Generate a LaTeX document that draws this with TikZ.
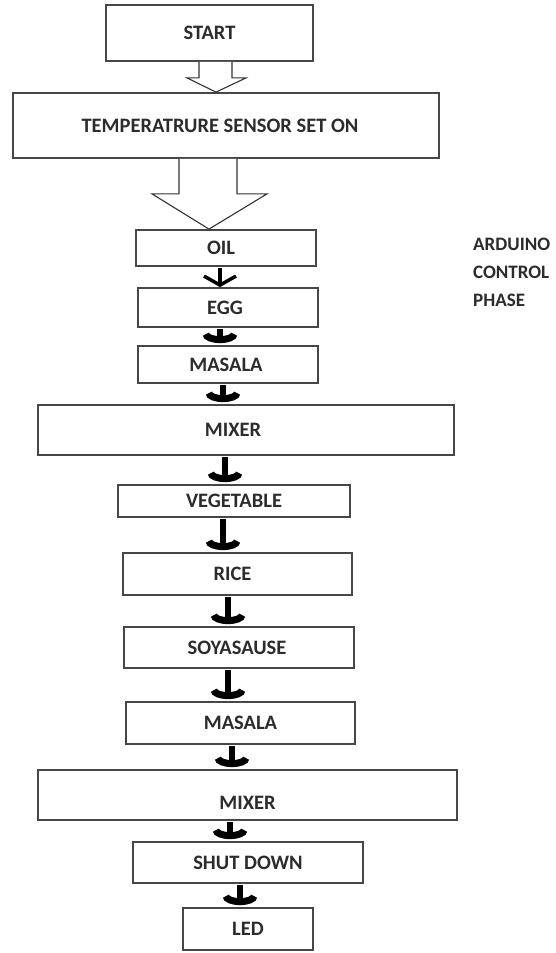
\documentclass[tikz,border=0pt]{standalone}
\usepackage{fontspec}
\setmainfont{Carlito}
\usetikzlibrary{arrows.meta,calc}
\definecolor{boxline}{HTML}{474747}
\definecolor{txt}{HTML}{2c2c2c}
\begin{document}
\begin{tikzpicture}[x=1pt,y=-1pt,
  box/.style={draw=boxline, line width=1.8pt, rectangle, inner sep=0pt, text=txt,
    font=\fontsize{20.5}{24}\selectfont\bfseries},
  blockarrow/.style={draw=black!80, fill=white, line width=1.1pt, line join=miter},
  crown/.style={draw=black, line width=5.5pt, shorten <=1.5pt, shorten >=2pt,
    -{Arc Barb[length=9pt,width=35pt,line width=7pt]}},
  vee/.style={draw=black, line width=3.5pt, shorten <=1pt,
    -{Straight Barb[length=9pt,width=32pt,line width=3.5pt]}}]
\useasboundingbox (0,0) rectangle (556,953);
\fill[white] (0,0) rectangle (556,953);

% boxes
\node[box, minimum width=207pt, minimum height=56pt] (start) at (209.5,33) {START};
\node[box, minimum width=426pt, minimum height=65pt] (temp) at (226,125.5) {TEMPERATRURE SENSOR SET ON\hspace*{12pt}};
\node[box, minimum width=180pt, minimum height=36pt] (oil) at (226,248) {OIL\hspace*{10pt}};
\node[box, minimum width=180pt, minimum height=39pt] (egg) at (228,307.5) {EGG\hspace*{6pt}};
\node[box, minimum width=180pt, minimum height=37pt] (masala) at (228,364.5) {MASALA\hspace*{4pt}};
\node[box, minimum width=416pt, minimum height=50pt] (mixer) at (246,430) {MIXER\hspace*{26pt}};
\node[box, minimum width=232pt, minimum height=32pt] (veg) at (234,501) {VEGETABLE};
\node[box, minimum width=229pt, minimum height=42pt] (rice) at (237.5,574) {RICE\hspace*{10pt}};
\node[box, minimum width=230pt, minimum height=41pt] (soy) at (239,647.5) {SOYASAUSE\hspace*{4pt}};
\node[box, minimum width=229pt, minimum height=42pt] (masalab) at (240.5,723) {MASALA};
\node[box, minimum width=419pt, minimum height=50pt] (mixerb) at (247.5,795) {\raisebox{-14pt}[0pt][0pt]{MIXER}};
\node[box, minimum width=230pt, minimum height=41pt] (shut) at (248,862.5) {SHUT DOWN};
\node[box, minimum width=130pt, minimum height=42pt] (led) at (248,929) {LED};

% side label
\node[anchor=west, inner sep=0pt, text=txt, align=left,
  font=\fontsize{19}{28}\selectfont\bfseries] (ard) at (473,272)
  {ARDUINO\\CONTROL\\PHASE};

% block arrows
\draw[blockarrow] ($(start.south)+(-10.5,0)$) -- ++(0,16) -- ++(-12,0)
  -- ($(temp.north)+(-10,0)$) -- ($(start.south)+(36.5,16)$) -- ++(-14,0) -- ++(0,-16);
\draw[blockarrow] ($(temp.south)+(-47,0)$) -- ++(0,35) -- ++(-27,0)
  -- ($(oil.north)+(-17,0)$) -- ($(temp.south)+(41,35)$) -- ++(-30,0) -- ++(0,-35);

% small black arrows
\draw[vee]   ([xshift=-6pt]oil.south)      -- ([xshift=-8pt]egg.north);
\draw[crown] ([xshift=-8pt]egg.south)      -- ([xshift=-8pt]masala.north);
\draw[crown] ([xshift=-5pt]masala.south)   -- ([xshift=-23pt]mixer.north);
\draw[crown] ([xshift=-21pt]mixer.south)   -- ([xshift=-9pt]veg.north);
\draw[crown] ([xshift=-11pt]veg.south)     -- ([xshift=-14.5pt]rice.north);
\draw[crown] ([xshift=-9.5pt]rice.south)   -- ([xshift=-11pt]soy.north);
\draw[crown] ([xshift=-11pt]soy.south)     -- ([xshift=-12.5pt]masalab.north);
\draw[crown] ([xshift=-8.5pt]masalab.south) -- ([xshift=-15.5pt]mixerb.north);
\draw[crown] ([xshift=-17.5pt]mixerb.south) -- ([xshift=-18pt]shut.north);
\draw[crown] ([xshift=-8pt]shut.south)     -- ([xshift=-8pt]led.north);
\end{tikzpicture}
\end{document}
